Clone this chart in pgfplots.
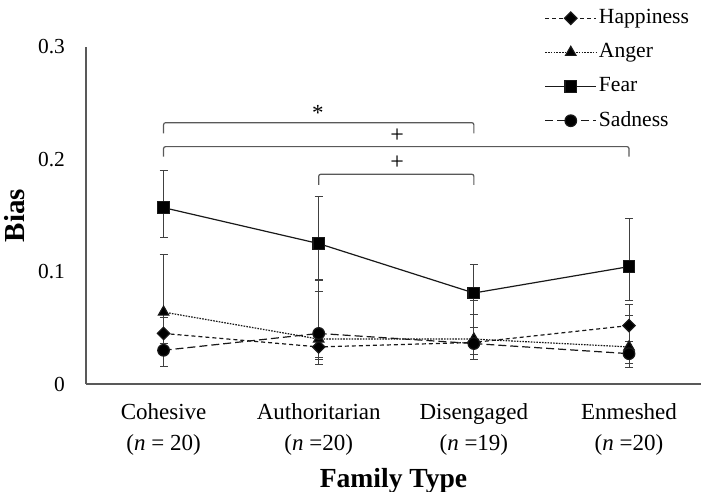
\documentclass[border=0pt]{standalone}
\usepackage{fontspec}
\setmainfont{Liberation Serif}
\usepackage{pgfplots}
\usepackage{pgfplotstable}
\pgfplotsset{compat=1.18}
\pgfplotstableread{
x y ep em
0 0.045 0.014 0.014
1 0.033 0.012 0.016
2 0.037 0.025 0.015
3 0.052 0.019 0.020
}\happiness
\pgfplotstableread{
x y ep em
0 0.064 0.051 0.048
1 0.040 0.052 0.018
2 0.040 0.034 0.018
3 0.033 0.028 0.015
}\anger
\pgfplotstableread{
x y ep em
0 0.157 0.033 0.027
1 0.125 0.042 0.032
2 0.081 0.025 0.019
3 0.1045 0.043 0.030
}\fear
\pgfplotstableread{
x y ep em
0 0.030 0.006 0.0143
1 0.045 0.037 0.021
2 0.036 0.014 0.010
3 0.027 0.011 0.012
}\sadness
\begin{document}
\begin{tikzpicture}
\begin{axis}[
  name=ax,
  scale only axis, width=307.5pt, height=168.5pt,
  xmin=-0.5, xmax=3.464, ymin=0, ymax=0.3,
  axis lines=left,
  axis line style={-, draw=black!65, line width=0.6pt},
  xtick={0,1,2,3},
  xticklabels={{Cohesive\\(\textit{n} = 20)},{Authoritarian\\(\textit{n} =20)},{Disengaged\\(\textit{n} =19)},{Enmeshed\\(\textit{n} =20)}},
  xticklabel style={align=center, font=\fontsize{11.5}{15.5}\selectfont, yshift=-6pt},
  ytick={0,0.1,0.2,0.3},
  yticklabels={0,0.1,0.2,0.3},
  yticklabel style={font=\fontsize{10.7}{12}\selectfont, xshift=-7pt},
  major tick length=0pt,
  xlabel={\textbf{Family Type}},
  xlabel style={font=\fontsize{13.8}{16}\selectfont, at={(axis description cs:0.5,-0.287)}, anchor=center},
  ylabel={\textbf{Bias}},
  ylabel style={font=\fontsize{14.5}{16}\selectfont, at={(axis description cs:-0.1154,0.5)}, anchor=center},
  legend style={at={(axis description cs:0.745,1.118)}, anchor=north west, draw=none, fill=none,
    font=\fontsize{10.8}{12}\selectfont, row sep=6.4pt, inner sep=0pt, nodes={inner sep=1pt}},
  legend cell align=left,
  legend image code/.code={\draw[mark repeat=2,mark phase=2] plot coordinates {(0cm,0cm) (0.45cm,0cm) (0.9cm,0cm)};},
  clip=false,
  every axis plot/.append style={black!90, line width=0.6pt},
  error bars/y dir=both, error bars/y explicit,
  error bars/error mark=-,
  error bars/error bar style={black!75, line width=0.5pt, solid},
  error bars/error mark options={rotate=90, black!75, mark size=2pt, solid, line width=0.5pt},
]
\addplot[black!90, dash pattern=on 2pt off 1.5pt, mark=square*, mark size=2.2pt, mark options={solid, fill=black, rotate=45}]
  table[x=x, y=y, y error plus=ep, y error minus=em] {\happiness};
\addlegendentry{Happiness}
\addplot[black!90, dash pattern=on 0.8pt off 0.6pt, mark=triangle*, mark size=3pt, mark options={solid, fill=black}]
  table[x=x, y=y, y error plus=ep, y error minus=em] {\anger};
\addlegendentry{Anger}
\addplot[black!90, solid, mark=square*, mark size=2.9pt, mark options={solid, fill=black}]
  table[x=x, y=y, y error plus=ep, y error minus=em] {\fear};
\addlegendentry{Fear}
\addplot[black!90, dash pattern=on 4pt off 2pt, mark=*, mark size=2.9pt, mark options={solid, fill=black}]
  table[x=x, y=y, y error plus=ep, y error minus=em] {\sadness};
\addlegendentry{Sadness}
% significance brackets
\draw[black!65, line width=0.6pt, rounded corners=1pt] (axis cs:0,0.2231) -- (axis cs:0,0.2326) -- (axis cs:2,0.2326) -- (axis cs:2,0.2231);
\node[font=\fontsize{11.5}{12}\selectfont] at (axis cs:0.995,0.241) {*};
\draw[black!65, line width=0.6pt, rounded corners=1pt] (axis cs:0,0.2024) -- (axis cs:0,0.2113) -- (axis cs:3,0.2113) -- (axis cs:3,0.2024);
\node[font=\fontsize{12}{12}\selectfont] at (axis cs:1.505,0.221) {+};
\draw[black!65, line width=0.6pt, rounded corners=1pt] (axis cs:1,0.1772) -- (axis cs:1,0.1867) -- (axis cs:2,0.1867) -- (axis cs:2,0.1772);
\node[font=\fontsize{12}{12}\selectfont] at (axis cs:1.505,0.197) {+};
\end{axis}
\pgfresetboundingbox
\path ([shift={(-43pt,-54pt)}]ax.south west) rectangle ([shift={(0pt,23.5pt)}]ax.north east);
\end{tikzpicture}
\end{document}
